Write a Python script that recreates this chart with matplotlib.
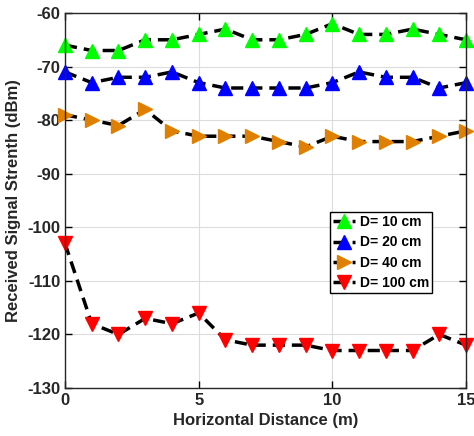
import matplotlib
matplotlib.use('Agg')
import matplotlib.pyplot as plt

plt.rcParams['font.family'] = ['Liberation Sans', 'DejaVu Sans']
plt.rcParams['font.weight'] = 'bold'
plt.rcParams['axes.unicode_minus'] = False

distance = list(range(16))
rss_10 = [-66, -67, -67, -65, -65, -64, -63, -65, -65, -64, -62, -64, -64, -63, -64, -65]
rss_20 = [-71, -73, -72, -72, -71, -73, -74, -74, -74, -74, -73, -71, -72, -72, -74, -73]
rss_40 = [-79, -80, -81, -78, -82, -83, -83, -83, -84, -85, -83, -84, -84, -84, -83, -82]
rss_100 = [-103, -118, -120, -117, -118, -116, -121, -122, -122, -122, -123, -123, -123, -123, -120, -122]

series = [
    (rss_10, '^', '#00ff00', 'D= 10 cm'),
    (rss_20, '^', '#0000ff', 'D= 20 cm'),
    (rss_40, '>', '#e08000', 'D= 40 cm'),
    (rss_100, 'v', '#ff0000', 'D= 100 cm'),
]

fig = plt.figure(figsize=(4.74, 4.36), dpi=100)
ax = fig.add_axes([65 / 474, 1 - 388 / 436, 401 / 474, 375 / 436])

for vals, m, c, lab in series:
    ax.plot(distance, vals, linestyle='--', color='black', linewidth=2.5,
            dashes=(3.5, 2), marker=m, markersize=9.5, markerfacecolor=c,
            markeredgecolor=c, label=lab, clip_on=False)

ax.set_xlim(0, 15)
ax.set_ylim(-130, -60)
ax.set_xticks([0, 5, 10, 15])
ax.set_yticks(range(-130, -59, 10))
ax.grid(True, color='#dcdcdc', linewidth=0.8)
ax.tick_params(direction='in', top=True, right=True, labelsize=12, width=1, length=5,
               labelcolor='#262626')
for s in ax.spines.values():
    s.set_linewidth(1)
    s.set_color('#262626')

ax.set_xlabel('Horizontal Distance (m)', fontsize=12, fontweight='bold', color='#262626')
ax.set_ylabel('Received Signal Strenth (dBm)', fontsize=12, fontweight='bold', color='#262626')

leg = ax.legend(loc='upper left', bbox_to_anchor=(0.66, 0.47), fontsize=10,
                fancybox=False, edgecolor='black', framealpha=1, borderaxespad=0,
                handlelength=1.6, handletextpad=0.3, borderpad=0.25, labelspacing=0.45)
leg.get_frame().set_linewidth(1)

fig.savefig('out.png', dpi=100)
